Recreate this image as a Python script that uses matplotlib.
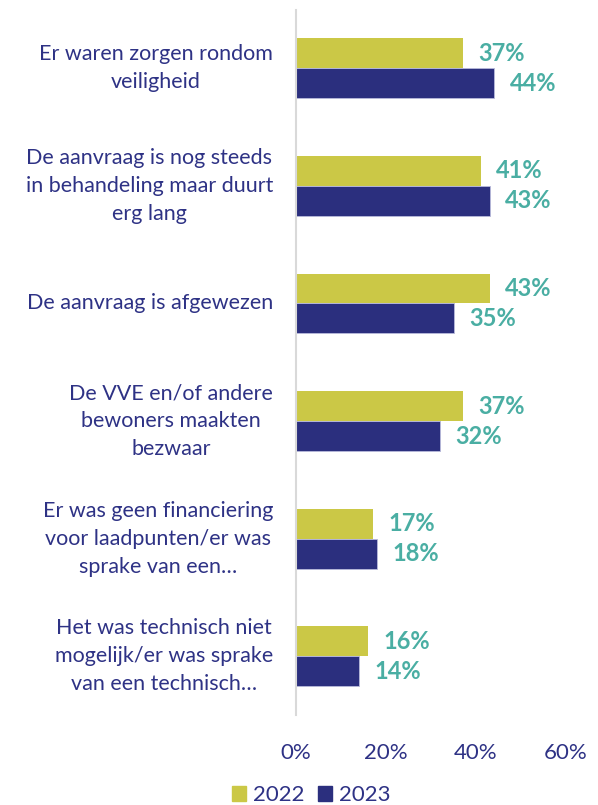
import numpy as np
import matplotlib.pyplot as plt
from matplotlib.patches import Patch

plt.rcParams['font.family'] = ['Lato', 'DejaVu Sans']

categories = [
    "Er waren zorgen rondom\nveiligheid",
    "De aanvraag is nog steeds\nin behandeling maar duurt\nerg lang",
    "De aanvraag is afgewezen",
    "De VVE en/of andere\nbewoners maakten\nbezwaar",
    "Er was geen financiering\nvoor laadpunten/er was\nsprake van een…",
    "Het was technisch niet\nmogelijk/er was sprake\nvan een technisch…",
]
values_2022 = [37, 41, 43, 37, 17, 16]
values_2023 = [44, 43, 35, 32, 18, 14]
ticks = [0, 20, 40, 60]

color_2022 = "#CBC846"
color_2023 = "#2B2F7E"
text_color = "#2E3285"
label_color = "#4AAEA3"

fig = plt.figure(figsize=(5.98, 8.05), dpi=100)
ax = fig.add_axes([0.495, 0.112, 0.4515, 0.876])

y = np.arange(len(categories))
h = 0.255
ax.barh(y - h / 2, values_2022, height=h, color=color_2022)
ax.barh(y + h / 2, values_2023, height=h, color=color_2023,
        edgecolor="#B8BADB", linewidth=0.6)

for yi, v in zip(y - h / 2, values_2022):
    ax.text(v + 3.5, yi, f"{v}%", va="center", ha="left",
            color=label_color, fontsize=17, fontweight="bold")
for yi, v in zip(y + h / 2, values_2023):
    ax.text(v + 3.5, yi, f"{v}%", va="center", ha="left",
            color=label_color, fontsize=17, fontweight="bold")

ax.set_ylim(len(categories) - 0.5, -0.5)
ax.set_xlim(0, 60)
ax.set_xticks(ticks)
ax.set_xticklabels([f"{t}%" for t in ticks], color=text_color, fontsize=16)
ax.tick_params(axis="x", length=0, pad=20)
ax.set_yticks([])

for s in ["top", "right", "bottom"]:
    ax.spines[s].set_visible(False)
ax.spines["left"].set_color("#D9D9D9")
ax.spines["left"].set_linewidth(1.5)

for yi, cat in zip(y, categories):
    ax.annotate(cat, xy=(0, yi), xycoords=("axes fraction", "data"),
                xytext=(-23, 0), textcoords="offset pixels",
                ha="right", va="center", multialignment="center",
                color=text_color, fontsize=15.5, linespacing=1.5)

handles = [Patch(color=color_2022, label="2022"),
           Patch(color=color_2023, label="2023")]
fig.legend(handles=handles, loc="center", bbox_to_anchor=(0.52, 0.012),
           ncol=2, frameon=False, fontsize=16, labelcolor=text_color,
           handlelength=0.65, handleheight=0.65, handletextpad=0.3,
           columnspacing=0.6)

fig.savefig("out.png", dpi=100)
